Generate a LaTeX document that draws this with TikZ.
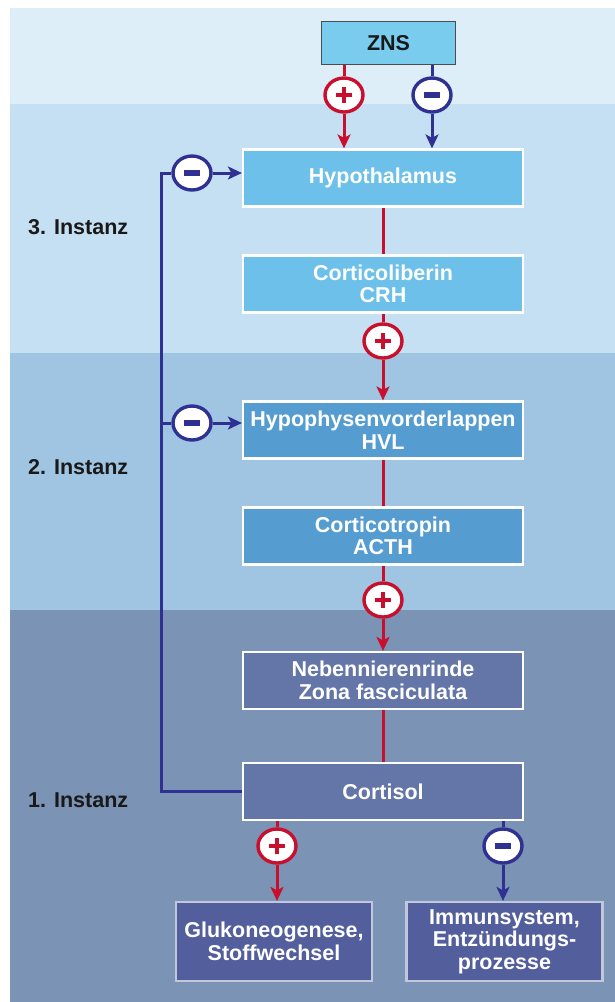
\documentclass[tikz,border=0pt]{standalone}
\usepackage{fontspec}
\setmainfont{Liberation Sans}
\usetikzlibrary{shapes.geometric,positioning,arrows.meta,calc}

\definecolor{bandA}{HTML}{DDEEF8}
\definecolor{bandB}{HTML}{C5E0F2}
\definecolor{bandC}{HTML}{A0C5E2}
\definecolor{bandD}{HTML}{7B93B5}
\definecolor{znsfill}{HTML}{7ACCEE}
\definecolor{hypofill}{HTML}{6CC0E9}
\definecolor{hvlfill}{HTML}{559CD0}
\definecolor{nnrfill}{HTML}{6475A8}
\definecolor{endfill}{HTML}{535E9C}
\definecolor{pred}{HTML}{C8102E}
\definecolor{pblue}{HTML}{2E3192}

\tikzset{
	box/.style={rectangle, draw=white, line width=2.2pt, minimum width=280pt, minimum height=57pt, inner sep=2pt, align=center, text=white, font=\fontsize{21.5}{22.5}\selectfont\bfseries},
	endbox/.style={box, draw=white!65!endfill, fill=endfill, minimum width=196pt, minimum height=79pt},
	instanz/.style={anchor=west, inner sep=0pt, text=black!90, font=\fontsize{21.5}{22.5}\selectfont\bfseries},
	sign/.style={ellipse, line width=3.4pt, fill=white, minimum width=38pt, minimum height=34pt, inner sep=0pt},
	plus/.style={sign, draw=pred, path picture={
		\fill[pred] ($(path picture bounding box.center)+(-8pt,-2.3pt)$) rectangle ++(16pt,4.6pt);
		\fill[pred] ($(path picture bounding box.center)+(-2.3pt,-8pt)$) rectangle ++(4.6pt,16pt);}},
	minus/.style={sign, draw=pblue, path picture={
		\fill[pblue] ($(path picture bounding box.center)+(-8pt,-2.6pt)$) rectangle ++(16pt,5.2pt);}},
	redline/.style={draw=pred, line width=3pt},
	blueline/.style={draw=pblue, line width=3pt},
	tip/.style={-{Stealth[length=14pt,width=13pt,inset=3.5pt]}}
}

\begin{document}
\begin{tikzpicture}[x=1pt, y=-1pt]
	\useasboundingbox (0,0) rectangle (615,1002);
	\fill[bandA] (10,8) rectangle (615,104);
	\fill[bandB] (10,104) rectangle (615,353);
	\fill[bandC] (10,353) rectangle (615,610);
	\fill[bandD] (10,610) rectangle (615,1002);

	\node[instanz] (lab3) at (28,227) {3. Instanz};
	\node[instanz] (lab2) at (28,467) {2. Instanz};
	\node[instanz] (lab1) at (28,800) {1. Instanz};

	\node[box, draw=black!70, line width=1.3pt, fill=znsfill, text=black!90, minimum width=134pt, minimum height=43pt] (zns) at (388.5,43) {ZNS};
	\node[box, fill=hypofill] (hypo) at (383,178) {Hypothalamus};
	\node[box, fill=hypofill] (crh) at (383,284) {Corticoliberin\\CRH};
	\node[box, fill=hvlfill] (hvl) at (383,430) {Hypophysenvorderlappen\\HVL};
	\node[box, fill=hvlfill] (acth) at (383,536) {Corticotropin\\ACTH};
	\node[box, fill=nnrfill] (nnr) at (383,680.5) {Nebennierenrinde\\Zona fasciculata};
	\node[box, fill=nnrfill] (cortisol) at (383,791.5) {Cortisol};
	\node[endbox] (gluko) at (274,941.5) {Glukoneogenese,\\Stoffwechsel};
	\node[endbox] (immun) at (504.5,941.5) {Immunsystem,\\Entzündungs-\\prozesse};

	\coordinate (fb) at (161,173);

	% ZNS
	\node[plus] (p1) at (344,95) {};
	\node[minus] (m1) at (432,95) {};
	\draw[redline] (zns.south -| p1) -- (p1);
	\draw[redline, tip] (p1) -- (p1 |- hypo.north);
	\draw[blueline] (zns.south -| m1) -- (m1);
	\draw[blueline, tip] (m1) -- (m1 |- hypo.north);

	% Achse
	\node[plus] (p2) at (383,341) {};
	\node[plus] (p3) at (383,600) {};
	\draw[redline] (hypo) -- (crh);
	\draw[redline] (crh) -- (p2);
	\draw[redline, tip] (p2) -- (hvl);
	\draw[redline] (hvl) -- (acth);
	\draw[redline] (acth) -- (p3);
	\draw[redline, tip] (p3) -- (nnr);
	\draw[redline] (nnr) -- (cortisol);

	% Rueckkopplung
	\node[minus] (m3) at (192,173) {};
	\node[minus] (m2) at (192,423) {};
	\draw[blueline] (cortisol.west) -| (fb) -- (m3);
	\draw[blueline] (fb |- m2) -- (m2);
	\draw[blueline, tip] (m3) -- (m3 -| hypo.west);
	\draw[blueline, tip] (m2) -- (m2 -| hvl.west);

	% Wirkungen
	\node[plus] (p4) at (277,846) {};
	\node[minus] (m4) at (503,846) {};
	\draw[redline] (cortisol.south -| p4) -- (p4);
	\draw[redline, tip] (p4) -- (p4 |- gluko.north);
	\draw[blueline] (cortisol.south -| m4) -- (m4);
	\draw[blueline, tip] (m4) -- (m4 |- immun.north);
\end{tikzpicture}
\end{document}
